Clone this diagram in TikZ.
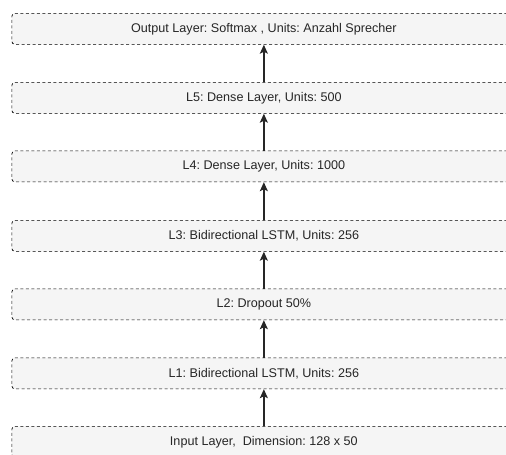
\documentclass[tikz,border=0pt]{standalone}
\usepackage{fontspec}
\setmainfont{Liberation Sans}
\usetikzlibrary{arrows.meta}
\frenchspacing
\tikzset{
  layerbox/.style={draw=black, fill=gray!8, dash pattern=on 3pt off 2.5pt, line width=0.7pt,
    rounded corners=3pt, minimum width=504pt, minimum height=31pt, anchor=north west,
    inner sep=0pt, font=\fontsize{12.6}{14}\selectfont, text=black!85},
  flow/.style={line width=1.6pt, draw=black!85, -{Stealth[length=9pt,width=8pt,inset=2pt]}}
}
\begin{document}
\begin{tikzpicture}[x=1pt,y=-1pt]
\useasboundingbox (0,0) rectangle (506,455);
\clip (0,0) rectangle (506,455);
\node[layerbox] (out) at (11.5,13) {Output Layer: Softmax , Units: Anzahl Sprecher};
\node[layerbox] (l5) at (11.5,82) {L5: Dense Layer, Units: 500};
\node[layerbox] (l4) at (11.5,150.5) {L4: Dense Layer, Units: 1000};
\node[layerbox] (l3) at (11.5,220) {L3: Bidirectional LSTM, Units: 256};
\node[layerbox] (l2) at (11.5,288.5) {L2: Dropout 50\%};
\node[layerbox] (l1) at (11.5,357.5) {L1: Bidirectional LSTM, Units: 256};
\node[layerbox] (in) at (11.5,426) {Input Layer,\ \ Dimension: 128 x 50};
\draw[flow] (in.north) -- (l1.south);
\draw[flow] (l1.north) -- (l2.south);
\draw[flow] (l2.north) -- (l3.south);
\draw[flow] (l3.north) -- (l4.south);
\draw[flow] (l4.north) -- (l5.south);
\draw[flow] (l5.north) -- (out.south);
\end{tikzpicture}
\end{document}
